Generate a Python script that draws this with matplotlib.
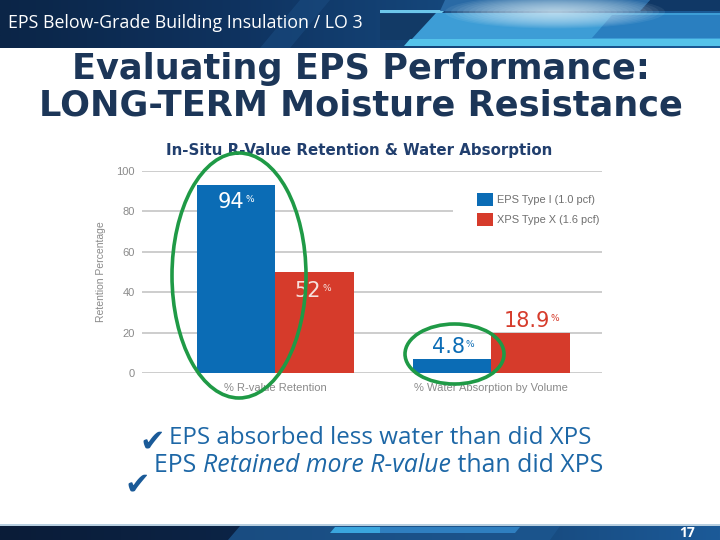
import numpy as np
import matplotlib
matplotlib.use("Agg")
import matplotlib.pyplot as plt
from matplotlib.patches import Polygon, Ellipse, Rectangle
from matplotlib.colors import LinearSegmentedColormap

# ---------------- data ----------------
groups = ['% R-value Retention', '% Water Absorption by Volume']
series_names = ['EPS Type I (1.0 pcf)', 'XPS Type X (1.6 pcf)']
eps_values = [93, 7]          # bar heights as drawn
xps_values = [50, 20]
eps_labels = ['94', '4.8']    # printed values
xps_labels = ['52', '18.9']
yticks = [0, 20, 40, 60, 80, 100]

W, H = 720, 540
fig = plt.figure(figsize=(7.2, 5.4), dpi=100)
fig.patch.set_facecolor('white')

def fx(x):
    return x / W

def fy(y):
    return 1 - y / H

# ---------------- header band ----------------
hb = 48
hax = fig.add_axes([0, fy(hb), 1, hb / H])
hax.set_xlim(0, W)
hax.set_ylim(hb, 0)
hax.axis('off')
grad = np.linspace(0, 1, 256)[None, :]
hcmap = LinearSegmentedColormap.from_list('h', ['#0b2547', '#0f3360', '#164a80', '#1b5a96'])
hax.imshow(grad, extent=[0, W, hb, 0], aspect='auto', cmap=hcmap, zorder=0)
polys = [
    ([(300, 0), (330, 0), (290, hb), (260, hb)], '#1a4b80', 0.6),
    ([(380, 10), (445, 10), (442, 13), (380, 13)], '#6cc6ea', 1),
    ([(380, 14), (436, 14), (412, 40), (380, 40)], '#123a66', 1),
    ([(436, 13), (720, 13), (720, 39), (412, 39)], '#3d9dd6', 1),
    ([(612, 15), (720, 15), (720, 38), (592, 38)], '#2a7fc0', 1),
    ([(410, 39), (720, 39), (720, 46), (404, 46)], '#55c3ea', 1),
    ([(650, 0), (720, 0), (720, 11), (640, 11)], '#103866', 1),
    ([(445, 0), (650, 0), (640, 11), (440, 11)], '#2a6aa5', 1),
]
for pts, c, a in polys:
    hax.add_patch(Polygon(pts, closed=True, facecolor=c, edgecolor='none', alpha=a, zorder=1))
for r in np.linspace(110, 8, 18):
    hax.add_patch(Ellipse((555, 12), 2 * r, r * 0.3, facecolor='#e8f8ff', edgecolor='none',
                          alpha=0.07, zorder=2))
hax.text(8, 23, 'EPS Below-Grade Building Insulation / LO 3', color='white',
         fontsize=12.8, family=['Open Sans', 'DejaVu Sans'], va='center', ha='left', zorder=3)

# ---------------- footer band ----------------
ft = 524
fax = fig.add_axes([0, 0, 1, (H - ft) / H])
fax.set_xlim(0, W)
fax.set_ylim(H, ft)
fax.axis('off')
fcmap = LinearSegmentedColormap.from_list('f', ['#0a1c38', '#0c2446', '#164678', '#1c5a98'])
fax.imshow(grad, extent=[0, W, H, ft], aspect='auto', cmap=fcmap, zorder=0)
fax.add_patch(Rectangle((0, ft), W, 1.5, facecolor='#b8cfe0', edgecolor='none', zorder=2))
fpolys = [
    ([(240, 526), (560, 526), (550, H), (228, H)], '#1d5790', 0.8),
    ([(335, 527), (380, 527), (380, 533), (330, 533)], '#3aa6de', 1),
    ([(380, 527), (520, 527), (515, 533), (380, 533)], '#2f7fc0', 1),
]
for pts, c, a in fpolys:
    fax.add_patch(Polygon(pts, closed=True, facecolor=c, edgecolor='none', alpha=a, zorder=1))
fax.text(687, 533, '17', color='white', fontsize=10, fontweight='bold',
         family=['Open Sans', 'DejaVu Sans'], ha='center', va='center', zorder=3)

# ---------------- slide title ----------------
title_color = '#1c3658'
fig.text(fx(361), fy(69), 'Evaluating EPS Performance:', color=title_color,
         fontsize=25.3, fontweight='bold', family='DejaVu Sans', ha='center', va='center')
fig.text(fx(361), fy(106), 'LONG-TERM Moisture Resistance', color=title_color,
         fontsize=25.3, fontweight='bold', family='DejaVu Sans', ha='center', va='center')

# ---------------- chart ----------------
grey = '#8a8a8a'
blue = '#0b6cb5'
red = '#d63b2b'
ax_l, ax_r = 141.7, 601.7
ax_b, ax_t = 373.3, 170.7
ax = fig.add_axes([fx(ax_l), fy(ax_b), (ax_r - ax_l) / W, (ax_b - ax_t) / H])
x = np.arange(len(groups))
bw = 0.364
ax.bar(x - bw / 2, eps_values, bw, color=blue, label=series_names[0], zorder=2)
ax.bar(x + bw / 2, xps_values, bw, color=red, label=series_names[1], zorder=2)
ax.set_xlim(-0.619, 1.511)
ax.set_ylim(0, 100)
ax.set_yticks(yticks)
ax.set_xticks(x)
ax.set_xticklabels(groups)
ax.tick_params(axis='both', length=0, labelsize=8, labelcolor=grey)
ax.tick_params(axis='y', pad=5)
ax.tick_params(axis='x', pad=7)
for lab in ax.get_xticklabels() + ax.get_yticklabels():
    lab.set_family('Liberation Sans')
for s in ax.spines.values():
    s.set_visible(False)
ax.set_axisbelow(True)
ax.yaxis.grid(True, color='#c9c9c9', lw=1.3, zorder=0.5)
ax.set_ylabel('Retention Percentage', fontsize=7.5, color=grey, family='Liberation Sans')
ax.yaxis.set_label_coords((106 - ax_l) / (ax_r - ax_l), 0.5)
# white legend background covering gridline
ax.add_patch(Rectangle(((453 - ax_l) / (ax_r - ax_l), (ax_b - 236) / (ax_b - ax_t)),
                       (ax_r + 5 - 453) / (ax_r - ax_l), (236 - 186) / (ax_b - ax_t),
                       transform=ax.transAxes, facecolor='white', edgecolor='none',
                       zorder=1, clip_on=False))
leg = ax.legend(loc='upper left', bbox_to_anchor=(fx(477), fy(193)),
                bbox_transform=fig.transFigure, frameon=False, borderpad=0,
                borderaxespad=0, handlelength=1.45, handleheight=1.45,
                handletextpad=0.4, labelspacing=0.65,
                prop={'family': 'Liberation Sans', 'size': 7.9})
for t in leg.get_texts():
    t.set_color('#707070')

fig.text(fx(359), fy(151), 'In-Situ R-Value Retention & Water Absorption', fontsize=10.8,
         fontweight='bold', color='#213f6e', family='DejaVu Sans', ha='center', va='center')

def value_label(xc, yv, txt, color, dx_px, dy_px):
    t = ax.annotate(txt, xy=(xc, yv), xytext=(dx_px * 0.72, dy_px * 0.72),
                    textcoords='offset points', ha='center', va='baseline',
                    color=color, fontsize=15, family='DejaVu Sans', zorder=5)
    ax.annotate('%', xy=(1.0, 1.0), xycoords=t, xytext=(0.8, -2), textcoords='offset points',
                ha='left', va='top', color=color, fontsize=6.5, family='DejaVu Sans', zorder=5)
    return t

value_label(x[0] - bw / 2, eps_values[0], eps_labels[0], 'white', -5, -23)
value_label(x[0] + bw / 2, xps_values[0], xps_labels[0], '#f6e0dc', -7, -25)
value_label(x[1] - bw / 2, eps_values[1], eps_labels[1], blue, -4, 6)
value_label(x[1] + bw / 2, xps_values[1], xps_labels[1], red, -4, 6)

# green highlight ellipses
green = '#1f9a46'
fig.add_artist(Ellipse((fx(239), fy(275.5)), 134 / W, 245 / H, transform=fig.transFigure,
                       facecolor='none', edgecolor=green, lw=2.6, zorder=10))
fig.add_artist(Ellipse((fx(454.5), fy(354)), 99 / W, 60 / H, transform=fig.transFigure,
                       facecolor='none', edgecolor=green, lw=2.6, zorder=10))

# ---------------- bullets ----------------
txt_color = '#1d67a6'
chk_color = '#1a5a98'
bf = ['Open Sans', 'DejaVu Sans']
fig.text(fx(139), fy(450), '\u2714', color=chk_color, fontsize=22, family='DejaVu Sans',
         ha='left', va='baseline')
fig.text(fx(169), fy(443.5), 'EPS absorbed less water than did XPS', color=txt_color,
         fontsize=17.4, family=bf, ha='left', va='baseline')
fig.text(fx(124), fy(493), '\u2714', color=chk_color, fontsize=22, family='DejaVu Sans',
         ha='left', va='baseline')
fs2 = 17.9
t1 = fig.text(fx(154), fy(472), 'EPS ', color=txt_color, fontsize=fs2, family=bf,
              ha='left', va='baseline')
t2 = fig.text(0, 0, 'Retained more R-value', color=txt_color, fontsize=fs2, family=bf,
              style='italic', ha='left', va='baseline')
t3 = fig.text(0, 0, ' than did XPS', color=txt_color, fontsize=fs2, family=bf,
              ha='left', va='baseline')
fig.canvas.draw()
r = fig.canvas.get_renderer()
bb1 = t1.get_window_extent(r)
t2.set_position((bb1.x1 / W, fy(472)))
fig.canvas.draw()
bb2 = t2.get_window_extent(r)
t3.set_position((bb2.x1 / W, fy(472)))

fig.savefig('out.png', dpi=100, facecolor='white')
